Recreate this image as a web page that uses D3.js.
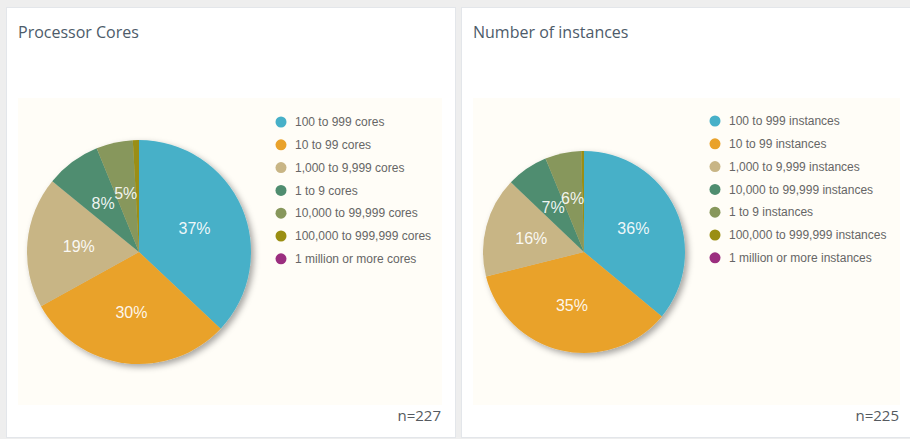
<!DOCTYPE html>
<html>
<head>
<meta charset="utf-8">
<script src="https://cdn.jsdelivr.net/npm/d3@7"></script>
<style>
  body { margin: 0; background: #eeeeee; }
  svg { display: block; }
</style>
</head>
<body>
<div id="chart"></div>
<script>
// data
const coreCategories = ["100 to 999 cores", "10 to 99 cores", "1,000 to 9,999 cores", "1 to 9 cores",
    "10,000 to 99,999 cores", "100,000 to 999,999 cores", "1 million or more cores"];
const coreCounts = [84, 68, 43, 18, 12, 2, 0];

const instanceCategories = ["100 to 999 instances", "10 to 99 instances", "1,000 to 9,999 instances",
    "10,000 to 99,999 instances", "1 to 9 instances", "100,000 to 999,999 instances", "1 million or more instances"];
const instanceCounts = [81, 79, 36, 15, 13, 1, 0];

const sliceColors = ["#47b0c8", "#e9a22b", "#c8b585", "#4f8d6f", "#87975b", "#9a8e12", "#9b2e7f"];

const width = 910;
const height = 439;

const svg = d3.select('#chart')
    .append('svg')
        .attr('width', width)
        .attr('height', height);

svg.append('rect')
    .attr('width', width)
    .attr('height', height)
    .attr('fill', '#eeeeee');

// drop shadow under the pies
const filter = svg.append('defs')
    .append('filter')
        .attr('id', 'pie-shadow')
        .attr('x', '-20%').attr('y', '-20%')
        .attr('width', '150%').attr('height', '150%');
filter.append('feDropShadow')
    .attr('dx', 3)
    .attr('dy', 3)
    .attr('stdDeviation', 3)
    .attr('flood-color', '#000')
    .attr('flood-opacity', 0.35);

const panels = [
    { title: "Processor Cores", cats: coreCategories, vals: coreCounts, n: "n=227",
      card: [6, 7, 449, 430], plot: [18, 98, 424, 307], cx: 139, cy: 252, r: 112, legX: 281, legY: 122 },
    { title: "Number of instances", cats: instanceCategories, vals: instanceCounts, n: "n=225",
      card: [461, 7, 460, 430], plot: [473, 98, 427, 307], cx: 584, cy: 252, r: 101, legX: 715, legY: 121 }
];

const pie = d3.pie().sort(null).value(d => d);

panels.forEach(p => {
    const g = svg.append('g');

    // card
    g.append('rect')
        .attr('x', p.card[0] + 0.5)
        .attr('y', p.card[1] + 0.5)
        .attr('width', p.card[2])
        .attr('height', p.card[3])
        .attr('fill', '#ffffff')
        .attr('stroke', '#e3e6ea');

    g.append('text')
        .attr('x', p.card[0] + 12)
        .attr('y', 38)
        .attr('font-family', "'Open Sans', sans-serif")
        .attr('font-size', 16)
        .attr('fill', '#4d5b6a')
        .text(p.title);

    // plot area
    g.append('rect')
        .attr('x', p.plot[0])
        .attr('y', p.plot[1])
        .attr('width', p.plot[2])
        .attr('height', p.plot[3])
        .attr('fill', '#fffdf7');

    const arcs = pie(p.vals);
    const total = d3.sum(p.vals);
    const arc = d3.arc().innerRadius(0).outerRadius(p.r);
    const labelArc = d3.arc().innerRadius(p.r * 0.54).outerRadius(p.r * 0.54);

    const pieG = g.append('g')
        .attr('transform', `translate(${p.cx},${p.cy})`);

    pieG.append('g')
        .attr('filter', 'url(#pie-shadow)')
        .selectAll('path')
        .data(arcs)
        .join('path')
            .attr('d', arc)
            .attr('fill', (d, i) => sliceColors[i]);

    pieG.selectAll('text')
        .data(arcs.filter(d => d.value / total >= 0.02))
        .join('text')
            .attr('transform', d => `translate(${labelArc.centroid(d)})`)
            .attr('text-anchor', 'middle')
            .attr('dy', '0.35em')
            .attr('font-family', "'Liberation Sans', Arial, sans-serif")
            .attr('font-size', 16)
            .attr('fill', '#ffffff')
            .attr('fill-opacity', 0.92)
            .text(d => Math.round(d.value / total * 100) + '%');

    // legend
    const legendStep = 22.8;
    const legend = g.selectAll('.legend-item')
        .data(p.cats)
        .join('g')
            .attr('transform', (d, i) => `translate(${p.legX},${p.legY + legendStep * i})`);

    legend.append('circle')
        .attr('r', 5.5)
        .attr('fill', (d, i) => sliceColors[i]);

    legend.append('text')
        .attr('x', 14)
        .attr('dy', '0.35em')
        .attr('font-family', "'Liberation Sans', Arial, sans-serif")
        .attr('font-size', 12)
        .attr('fill', '#666666')
        .text(d => d);

    g.append('text')
        .attr('x', p.plot[0] + p.plot[2] - 1)
        .attr('y', 421)
        .attr('text-anchor', 'end')
        .attr('font-family', "'Open Sans', sans-serif")
        .attr('font-size', 15)
        .attr('fill', '#555a60')
        .text(p.n);
});
</script>
</body>
</html>
